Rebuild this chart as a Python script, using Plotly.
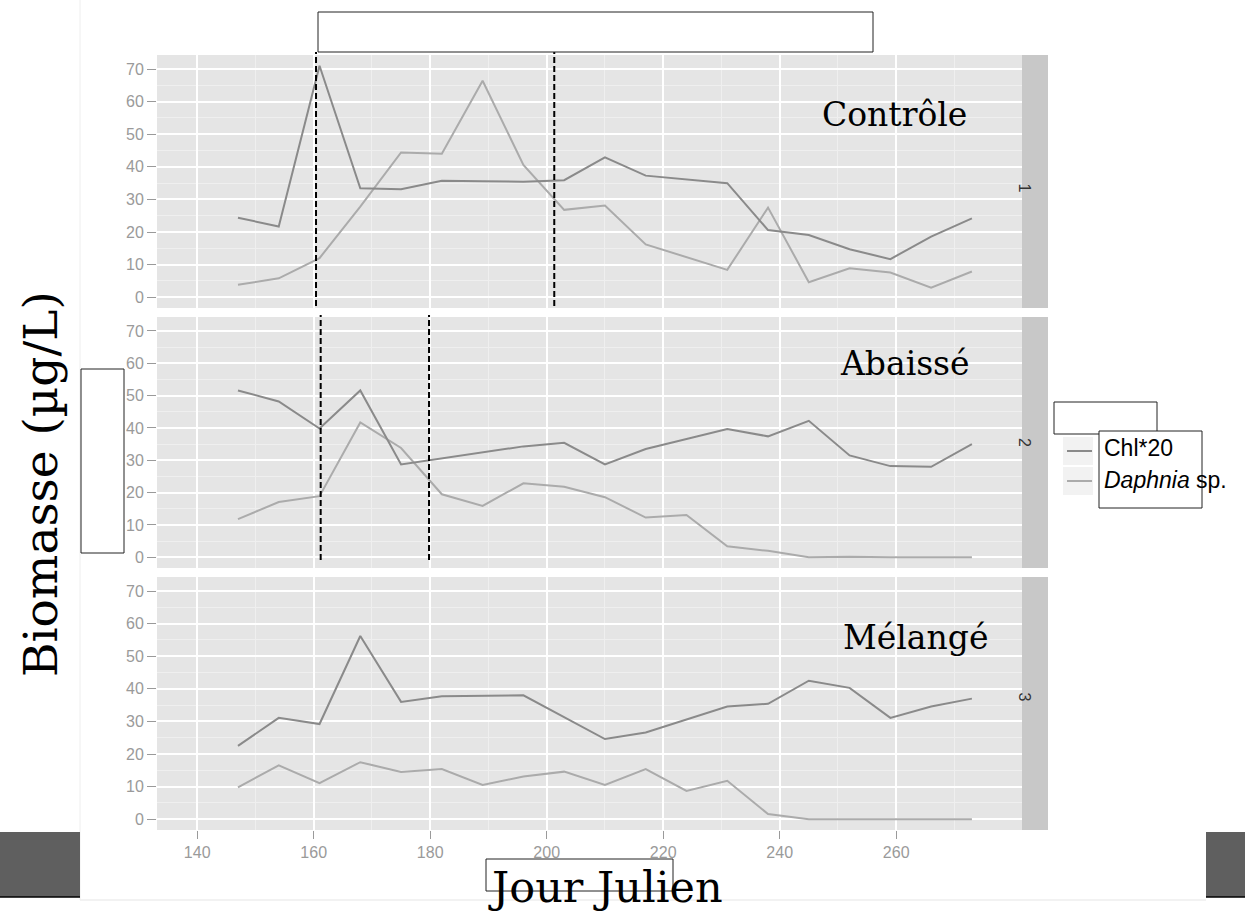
import plotly.graph_objects as go

# ---------------- data ----------------
days_ctrl_chl = [147, 154, 161, 168, 175, 182, 189, 196, 203, 210, 217, 231, 238, 245, 252, 259, 266, 273]
chl_ctrl = [24.4, 21.7, 71.0, 33.4, 33.1, 35.7, 35.6, 35.4, 35.9, 42.9, 37.3, 35.0, 20.6, 19.1, 14.7, 11.7, 18.6, 24.2]
days_ctrl_daph = [147, 154, 161, 168, 175, 182, 189, 196, 203, 210, 217, 231, 238, 245, 252, 259, 266, 273]
daph_ctrl = [3.8, 5.8, 12.0, 27.8, 44.4, 44.0, 66.4, 40.6, 26.8, 28.1, 16.2, 8.4, 27.5, 4.6, 8.9, 7.6, 2.9, 7.9]

days_ab_chl = [147, 154, 161, 168, 175, 196, 203, 210, 217, 231, 238, 245, 252, 259, 266, 273]
chl_ab = [51.6, 48.2, 39.8, 51.6, 28.7, 34.3, 35.4, 28.7, 33.5, 39.7, 37.4, 42.2, 31.5, 28.2, 28.0, 35.0]
days_ab_daph = [147, 154, 161, 168, 175, 182, 189, 196, 203, 210, 217, 224, 231, 238, 245, 252, 259, 266, 273]
daph_ab = [11.8, 17.1, 18.9, 41.7, 33.8, 19.5, 15.9, 22.9, 21.8, 18.6, 12.3, 13.1, 3.4, 2.0, 0.0, 0.2, 0.0, 0.0, 0.0]

days_mel_chl = [147, 154, 161, 168, 175, 182, 196, 210, 217, 231, 238, 245, 252, 259, 266, 273]
chl_mel = [22.5, 31.1, 29.2, 56.2, 36.0, 37.7, 38.0, 24.6, 26.6, 34.6, 35.4, 42.5, 40.3, 31.1, 34.6, 37.0]
days_mel_daph = [147, 154, 161, 168, 175, 182, 189, 196, 203, 210, 217, 224, 231, 238, 245, 252, 259, 266, 273]
daph_mel = [9.8, 16.5, 11.1, 17.5, 14.5, 15.4, 10.5, 13.1, 14.6, 10.5, 15.4, 8.7, 11.8, 1.6, 0.0, 0.0, 0.0, 0.0, 0.0]

panel_labels = ["Contrôle", "Abaissé", "Mélangé"]
strip_labels = ["1", "2", "3"]
series_names = ["Chl*20", "<i>Daphnia</i> sp."]
x_ticks = [140, 160, 180, 200, 220, 240, 260]
y_ticks = [0, 10, 20, 30, 40, 50, 60, 70]
dashed_days = [[160.4, 201.3], [161.2, 179.8], []]

# ---------------- layout helpers ----------------
W, H = 1245, 914
def PX(px):
    return px / W
def PY(py):
    return 1 - py / H

CHL_COL = "#8a8a8a"
DAPH_COL = "#ababab"
BG = "#e5e5e5"

panels_px = [(55, 308), (317, 568), (577, 830)]
x_left, x_right = 157, 1022

fig = go.Figure()

data = [
    (days_ctrl_chl, chl_ctrl, days_ctrl_daph, daph_ctrl),
    (days_ab_chl, chl_ab, days_ab_daph, daph_ab),
    (days_mel_chl, chl_mel, days_mel_daph, daph_mel),
]

for i, (dc, vc, dd, vd) in enumerate(data):
    xa = "x" if i == 0 else f"x{i+1}"
    ya = "y" if i == 0 else f"y{i+1}"
    fig.add_trace(go.Scatter(x=dd, y=vd, mode="lines", line=dict(color=DAPH_COL, width=2),
                             xaxis=xa, yaxis=ya, showlegend=False, name=series_names[1]))
    fig.add_trace(go.Scatter(x=dc, y=vc, mode="lines", line=dict(color=CHL_COL, width=2),
                             xaxis=xa, yaxis=ya, showlegend=False, name=series_names[0]))

tickfont = dict(family="Liberation Sans, Arial", size=16, color="#9a9a9a")
for i, (top, bot) in enumerate(panels_px):
    xkey = "xaxis" if i == 0 else f"xaxis{i+1}"
    ykey = "yaxis" if i == 0 else f"yaxis{i+1}"
    yanchor = "y" if i == 0 else f"y{i+1}"
    xanchor = "x" if i == 0 else f"x{i+1}"
    fig.update_layout({
        xkey: dict(domain=[PX(x_left), PX(x_right)], anchor=yanchor, range=[133.1, 281.6],
                   tickvals=x_ticks, showticklabels=(i == 2), ticks="outside" if i == 2 else "",
                   ticklen=8, tickcolor="#9a9a9a", tickwidth=1.3, tickfont=tickfont,
                   showgrid=True, gridcolor="white", gridwidth=1.6, zeroline=False, showline=False,
                   minor=dict(dtick=20, tick0=150, showgrid=True, gridcolor="#efefef", gridwidth=0.8),
                   fixedrange=True),
        ykey: dict(domain=[PY(bot), PY(top)], anchor=xanchor, range=[-3.3, 74.3],
                   tickvals=y_ticks, ticks="outside", ticklen=9, tickcolor="#9a9a9a", tickwidth=1.3,
                   tickfont=tickfont, showgrid=True, gridcolor="white", gridwidth=1.6,
                   zeroline=False, showline=False,
                   minor=dict(dtick=10, tick0=5, showgrid=True, gridcolor="#efefef", gridwidth=0.8),
                   fixedrange=True),
    })

shapes = []
annotations = []

# strips
for i, (top, bot) in enumerate(panels_px):
    shapes.append(dict(type="rect", xref="paper", yref="paper", x0=PX(1022), x1=PX(1048),
                       y0=PY(bot), y1=PY(top), fillcolor="#c8c8c8", line=dict(width=0), layer="below"))
    annotations.append(dict(xref="paper", yref="paper", x=PX(1035), y=PY((top + bot) / 2),
                            text=strip_labels[i], showarrow=False, textangle=90,
                            font=dict(family="Liberation Sans, Arial", size=16, color="#333333")))

# dashed vertical lines
dash_extent = [(52, 306), (315, 560), None]
for i, days in enumerate(dashed_days):
    xa = "x" if i == 0 else f"x{i+1}"
    for d in days:
        y0p, y1p = dash_extent[i]
        shapes.append(dict(type="line", xref=xa, yref="paper", x0=d, x1=d, y0=PY(y1p), y1=PY(y0p),
                           line=dict(color="black", width=2, dash="6px,3px"), layer="above"))

# panel labels
label_pos = [(894, 115), (905, 363), (915, 637)]
for (cx, cy), t in zip(label_pos, panel_labels):
    annotations.append(dict(xref="paper", yref="paper", x=PX(cx), y=PY(cy), text=t, showarrow=False,
                            xanchor="center", yanchor="middle",
                            font=dict(family="DejaVu Serif", size=33, color="black")))

# overlay white boxes
def box(x0, y0, x1, y1):
    shapes.append(dict(type="rect", xref="paper", yref="paper", x0=PX(x0), x1=PX(x1), y0=PY(y1), y1=PY(y0),
                       fillcolor="white", line=dict(color="#222222", width=1), layer="above"))

box(318, 12, 873, 52)
box(81, 369, 124, 553)
box(1054, 402, 1157, 434)

# legend keys
for (ky, col) in [(451, CHL_COL), (481, DAPH_COL)]:
    shapes.append(dict(type="rect", xref="paper", yref="paper", x0=PX(1063), x1=PX(1093),
                       y0=PY(ky + 14), y1=PY(ky - 14), fillcolor="#f2f2f2", line=dict(width=0), layer="above"))
    shapes.append(dict(type="line", xref="paper", yref="paper", x0=PX(1067), x1=PX(1092),
                       y0=PY(ky), y1=PY(ky), line=dict(color=col, width=2), layer="above"))

box(1099, 431, 1202, 508)
box(486, 859, 673, 891)

# gray blocks at bottom corners
for (x0, x1) in [(0, 80), (1206, 1245)]:
    shapes.append(dict(type="rect", xref="paper", yref="paper", x0=PX(x0), x1=PX(x1), y0=PY(897), y1=PY(832),
                       fillcolor="#5f5f5f", line=dict(width=0), layer="above"))
    shapes.append(dict(type="line", xref="paper", yref="paper", x0=PX(x0), x1=PX(x1), y0=PY(897), y1=PY(897),
                       line=dict(color="black", width=1.5), layer="above"))
# faint frame lines
shapes.append(dict(type="line", xref="paper", yref="paper", x0=PX(80), x1=PX(80), y0=PY(900), y1=PY(0),
                   line=dict(color="#eeeeee", width=1), layer="below"))
shapes.append(dict(type="line", xref="paper", yref="paper", x0=PX(80), x1=PX(1206), y0=PY(900), y1=PY(900),
                   line=dict(color="#eeeeee", width=1.5), layer="above"))

# legend labels
annotations.append(dict(xref="paper", yref="paper", x=PX(1102), y=PY(448), text=series_names[0],
                        showarrow=False, xanchor="left", yanchor="middle",
                        font=dict(family="Liberation Sans, Arial", size=23, color="black")))
annotations.append(dict(xref="paper", yref="paper", x=PX(1102), y=PY(480), text=series_names[1],
                        showarrow=False, xanchor="left", yanchor="middle",
                        font=dict(family="Liberation Sans, Arial", size=23, color="black")))

# axis titles
annotations.append(dict(xref="paper", yref="paper", x=PX(605), y=PY(887), text="Jour Julien",
                        showarrow=False, xanchor="center", yanchor="middle",
                        font=dict(family="DejaVu Serif", size=43, color="black")))
annotations.append(dict(xref="paper", yref="paper", x=PX(40), y=PY(484), text="Biomasse (µg/L)",
                        showarrow=False, xanchor="center", yanchor="middle", textangle=-90,
                        font=dict(family="DejaVu Serif", size=47, color="black")))

fig.update_layout(
    width=W, height=H, margin=dict(l=0, r=0, t=0, b=0),
    paper_bgcolor="white", plot_bgcolor=BG,
    shapes=shapes, annotations=annotations, showlegend=False,
)

fig.write_html("out.html")
